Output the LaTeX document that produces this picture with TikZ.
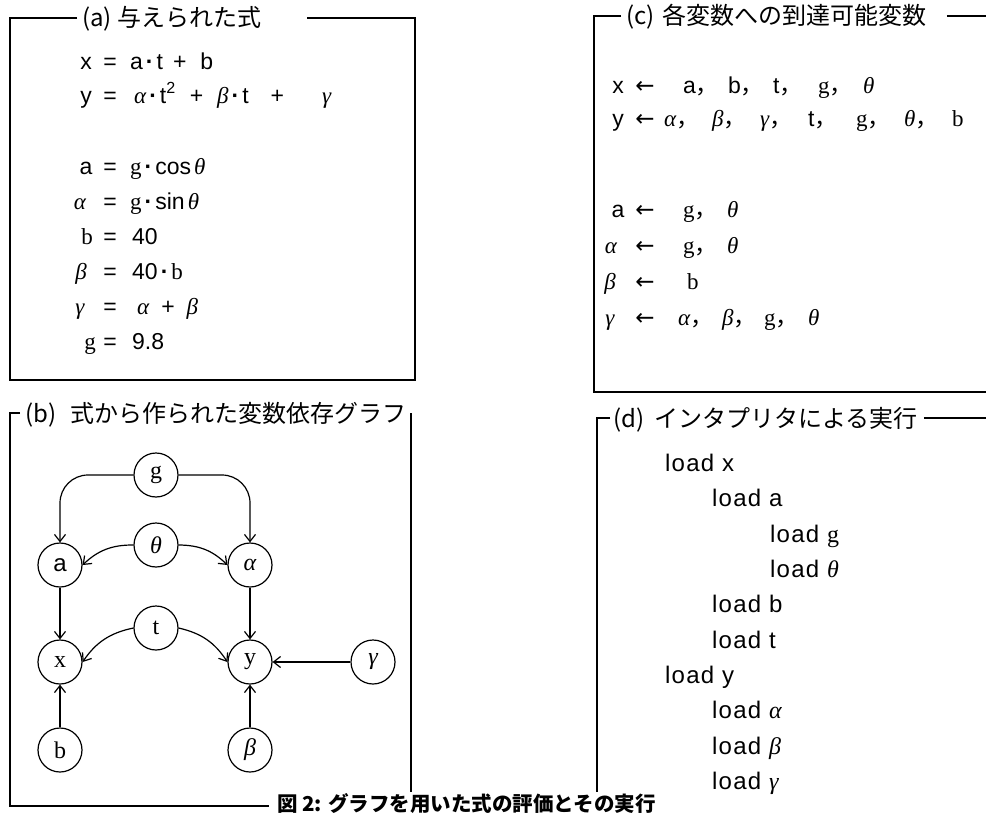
\documentclass[tikz,border=0pt]{standalone}
\usepackage{fontspec}
\setmainfont{Liberation Sans}
\newfontfamily\jp{Noto Sans CJK JP}
\newfontfamily\gk{Liberation Serif}
\newfontfamily\arrf{DejaVu Sans}
\usetikzlibrary{arrows.meta}
\newcommand{\xal}{{\gk\itshape α}}
\newcommand{\xbe}{{\gk\itshape β}}
\newcommand{\xga}{{\gk\itshape γ}}
\newcommand{\xth}{{\gk\itshape θ}}
\newcommand{\xg}{{\gk g}}
\newcommand{\xb}{{\gk b}}
\newcommand{\xdot}{\hspace{3pt}{\bfseries ·}\hspace{3pt}}
\newcommand{\xla}{{\arrf ←}}
\newcommand{\cm}{{\jp ，}}
\tikzset{
  boxline/.style={line width=1.3pt},
  ttl/.style={font={\jp\fontsize{24}{24}\selectfont}, inner sep=0pt, anchor=base west},
  rowl/.style={font={\fontsize{23}{23}\selectfont}, inner sep=0pt, anchor=base west},
  rowc/.style={font={\fontsize{23}{23}\selectfont}, inner sep=0pt, anchor=base},
  loadrow/.style={font={\addfontfeature{LetterSpace=5}\fontsize{24}{24}\selectfont}, inner sep=0pt, anchor=base west},
  vnode/.style={circle, draw, line width=1.2pt, minimum size=44pt, inner sep=0pt, font={\fontsize{24}{24}\selectfont}},
  edge/.style={line width=1.2pt, -{Straight Barb[length=7pt,width=11pt]}},
}
\begin{document}
\begin{tikzpicture}[x=1pt,y=-1pt]
\useasboundingbox (0,0) rectangle (986,816);

% ---------- (a) ----------
\coordinate (aTL) at (10,18);
\coordinate (aBR) at (415,380);
\node[ttl] (ta) at (82,27) {(a)\hspace{6pt}与えられた式};
\draw[boxline] ([xshift=-5]ta.west |- aTL) -- (aTL) -- (aTL |- aBR) -- (aBR) -- (aBR |- aTL) -- ([xshift=45]ta.east |- aTL);

\node[rowc] (ax1) at (86,70) {x};
\node[rowc] (ax2) at (110,70) {=};
\node[rowl] (ax3) at (130,70) {a\xdot t\hspace{10pt}+\hspace{14pt}b};

\node[rowc] (ay1) at (86,103) {y};
\node[rowc] (ay2) at (110,103) {=};
\node[rowl] (ay3) at (134,103) {\xal\xdot t\textsuperscript{2}\hspace{14pt}+\hspace{14pt}\xbe\xdot t\hspace{22pt}+\hspace{38pt}\xga};

\node[rowc] (aa1) at (86,174) {a};
\node[rowc] (aa2) at (110,174) {=};
\node[rowl] (aa3) at (130,174) {\xg\xdot cos\hspace{3pt}\xth};

\node[rowc] (ab1) at (80,209) {\xal};
\node[rowc] (ab2) at (110,209) {=};
\node[rowl] (ab3) at (130,209) {\xg\xdot sin\hspace{3pt}\xth};

\node[rowc] (ac1) at (87,244) {\xb};
\node[rowc] (ac2) at (110,244) {=};
\node[rowl] (ac3) at (132,244) {40};

\node[rowc] (ad1) at (81,279) {\xbe};
\node[rowc] (ad2) at (110,279) {=};
\node[rowl] (ad3) at (132,279) {40\xdot\xb};

\node[rowc] (ae1) at (80,314) {\xga};
\node[rowc] (ae2) at (110,314) {=};
\node[rowl] (ae3) at (137,314) {\xal\hspace{12pt}+\hspace{12pt}\xbe};

\node[rowc] (af1) at (90,349) {\xg};
\node[rowc] (af2) at (110,349) {=};
\node[rowl] (af3) at (132,349) {9.8};

% ---------- (c) ----------
\coordinate (cTL) at (594,16);
\coordinate (cBR) at (986,392);
\node[ttl] (tc) at (626,25) {(c)\hspace{8pt}各変数への到達可能変数};
\draw[boxline] ([xshift=-5]tc.west |- cTL) -- (cTL) -- (cTL |- cBR) -- (cBR);
\draw[boxline] ([xshift=20]tc.east |- cTL) -- (cTL -| cBR);

\node[rowc] (cx0) at (618,93) {x};
\node[rowc] (cx1) at (645,93) {\xla};
\foreach \s/\p [count=\i] in {a/683, b/728, t/773, \xg/818}
  \node[rowl] (cxi\i) at (\p,93) {\s\cm};
\node[rowl] (cxi5) at (863,93) {\xth};

\node[rowc] (cy0) at (618,127) {y};
\node[rowc] (cy1) at (645,127) {\xla};
\foreach \s/\p [count=\i] in {\xal/664, \xbe/712, \xga/760, t/808, \xg/856, \xth/904}
  \node[rowl] (cyi\i) at (\p,127) {\s\cm};
\node[rowl] (cyi7) at (952,127) {\xb};

\node[rowc] (ca0) at (618,217) {a};
\node[rowc] (ca1) at (645,217) {\xla};
\node[rowl] (ca2) at (683,217) {\xg\cm};
\node[rowl] (ca3) at (727,217) {\xth};

\node[rowc] (cb0) at (611,253) {\xal};
\node[rowc] (cb1) at (645,253) {\xla};
\node[rowl] (cb2) at (683,253) {\xg\cm};
\node[rowl] (cb3) at (727,253) {\xth};

\node[rowc] (cc0) at (610,289) {\xbe};
\node[rowc] (cc1) at (645,289) {\xla};
\node[rowl] (cc2) at (687,289) {\xb};

\node[rowc] (cd0) at (610,325) {\xga};
\node[rowc] (cd1) at (645,325) {\xla};
\foreach \s/\p [count=\i] in {\xal/678, \xbe/722, \xg/764}
  \node[rowl] (cdi\i) at (\p,325) {\s\cm};
\node[rowl] (cdi4) at (808,325) {\xth};

% ---------- (b) ----------
\coordinate (bTL) at (10,413);
\coordinate (bBL) at (10,806);
\coordinate (bTR) at (411,413);
\coordinate (bBR) at (411,792);
\node[ttl] (tb) at (25,422) {(b)\hspace{14pt}式から作られた変数依存グラフ};
\node[font={\jp\bfseries\fontsize{20.5}{20.5}\selectfont}, inner sep=0pt, anchor=base west] (cap) at (277,811) {図 2: グラフを用いた式の評価とその実行};
\draw[boxline] ([xshift=-5]tb.west |- bTL) -- (bTL) -- (bBL) -- ([xshift=-8]cap.west |- bBL);
\draw[boxline] (bTR) -- (bBR);

\node[vnode] (g) at (156,475) {\xg};
\node[vnode] (th) at (156,545) {\xth};
\node[vnode] (na) at (60,565) {a};
\node[vnode] (nal) at (250,565) {\xal};
\node[vnode] (nt) at (156,628) {{\gk t}};
\node[vnode] (nx) at (60,662) {{\gk x}};
\node[vnode] (ny) at (250,662) {{\gk y}};
\node[vnode] (ngm) at (373,662) {\xga};
\node[vnode] (nb) at (60,750) {\xb};
\node[vnode] (nbe) at (250,750) {\xbe};

\draw[edge, rounded corners=28pt] (g.west) -| (na.north);
\draw[edge, rounded corners=28pt] (g.east) -| (nal.north);
\draw[edge] (th.west) to[bend right=22] (na.east);
\draw[edge] (th.east) to[bend left=22] (nal.west);
\draw[edge] (nt.west) to[bend right=22] (nx.east);
\draw[edge] (nt.east) to[bend left=22] (ny.west);
\draw[edge] (na.south) -- (nx.north);
\draw[edge] (nal.south) -- (ny.north);
\draw[edge] (ngm.west) -- (ny.east);
\draw[edge] (nb.north) -- (nx.south);
\draw[edge] (nbe.north) -- (ny.south);

% ---------- (d) ----------
\coordinate (dTL) at (597,418);
\coordinate (dBL) at (597,792);
\node[ttl] (td) at (613,427) {(d)\hspace{10pt}インタプリタによる実行};
\draw[boxline] ([xshift=-3]td.west |- dTL) -- (dTL) -- (dBL);
\draw[boxline] ([xshift=6]td.east |- dTL) -- (dTL -| cBR);

\foreach \s/\lx/\ly [count=\i] in {x/665/463, a/712/498, \xg/770/534, \xth/770/569, b/712/604, t/712/640, y/665/675, \xal/712/710, \xbe/712/746, \xga/712/781}
  \node[loadrow] (dl\i) at ({\lx},{\ly+8}) {load \s};
\end{tikzpicture}
\end{document}
